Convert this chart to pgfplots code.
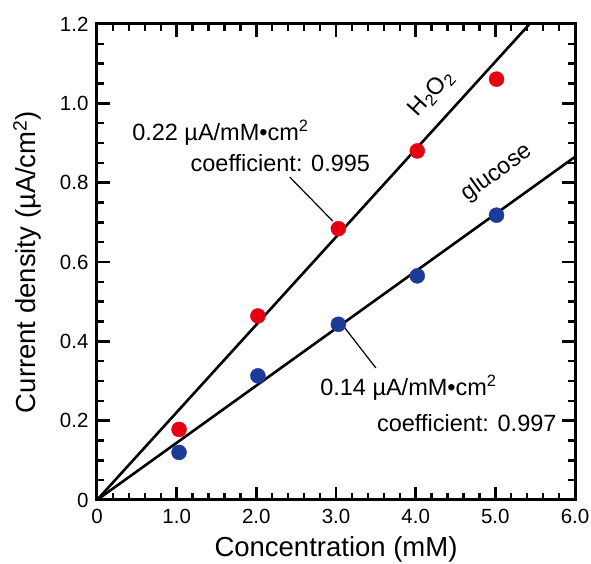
\documentclass[border=0pt]{standalone}
\usepackage{pgfplots}
\pgfplotsset{compat=1.18}
\usepackage{fontspec}
\setmainfont{Liberation Sans}
\definecolor{myred}{RGB}{230,0,18}
\definecolor{myblue}{RGB}{28,58,150}
\begin{document}
\begin{tikzpicture}
\begin{axis}[name=ax, width=478pt, height=476pt, scale only axis,
  xmin=0, xmax=6, ymin=0, ymax=1.2,
  xtick={0,1,2,3,4,5,6}, xticklabels={0,1.0,2.0,3.0,4.0,5.0,6.0},
  ytick={0,0.2,0.4,0.6,0.8,1.0,1.2}, yticklabels={0,0.2,0.4,0.6,0.8,1.0,1.2},
  minor x tick num=4, minor y tick num=3,
  tick align=inside, major tick length=13pt, minor tick length=7pt,
  axis line style={line width=3pt},
  tick style={line width=2.4pt, black},
  /pgf/number format/assume math mode=true,
  tick label style={font=\fontsize{20.5}{22}\selectfont},
  xticklabel style={yshift=-6pt},
  yticklabel style={xshift=-5pt},
  xlabel={Concentration (mM)},
  ylabel={Current density (µA/cm\textsuperscript{2})},
  label style={font=\fontsize{27.5}{30}\selectfont},
  xlabel style={at={(axis description cs:0.5,-0.103)}, anchor=center},
  ylabel style={at={(axis description cs:-0.146,0.5)}, anchor=center},
]
\addplot[black, line width=2.6pt] coordinates {(0,0) (5.43,1.2)};
\addplot[black, line width=2.6pt] coordinates {(0,0) (6,0.865)};
\addplot[only marks, mark=*, mark size=7.5pt, color=myred, mark options={draw=none, fill=myred}]
  coordinates {(1.03,0.178) (2.02,0.464) (3.03,0.684) (4.02,0.880) (5.015,1.061)};
\addplot[only marks, mark=*, mark size=7.5pt, color=myblue, mark options={draw=none, fill=myblue}]
  coordinates {(1.03,0.120) (2.02,0.313) (3.03,0.443) (4.02,0.565) (5.015,0.718)};
\draw[line width=1.2pt] (axis cs:2.42,0.814) -- (axis cs:2.96,0.703);
\draw[line width=1.2pt] (axis cs:3.11,0.434) -- (axis cs:3.50,0.333);
\node[anchor=west, font=\fontsize{23.5}{26}\selectfont, inner sep=0pt] at (axis cs:0.44,0.925) {0.22 µA/mM•cm\textsuperscript{2}};
\node[anchor=east, font=\fontsize{23.5}{26}\selectfont, inner sep=0pt] at (axis cs:3.43,0.850) {coefficient: 0.995};
\node[anchor=west, font=\fontsize{23.5}{26}\selectfont, inner sep=0pt] at (axis cs:2.80,0.282) {0.14 µA/mM•cm\textsuperscript{2}};
\node[anchor=east, font=\fontsize{23.5}{26}\selectfont, inner sep=0pt] at (axis cs:5.77,0.194) {coefficient: 0.997};
\node[rotate=47.7, font=\fontsize{23.5}{26}\selectfont, inner sep=0pt] at (axis cs:4.2,1.025) {H\textsubscript{2}O\textsubscript{2}};
\node[rotate=35.6, font=\fontsize{23.5}{26}\selectfont, inner sep=0pt] at (axis cs:5.02,0.825) {glucose};
\end{axis}
\pgfresetboundingbox
\path ([shift={(-97pt,-64pt)}]ax.south west) rectangle ([shift={(16pt,24pt)}]ax.north east);
\end{tikzpicture}
\end{document}
